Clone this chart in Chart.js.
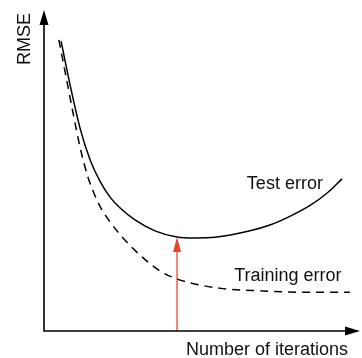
<!DOCTYPE html>
<html>
<head>
<meta charset="utf-8">
<script src="https://cdn.jsdelivr.net/npm/chart.js@4"></script>
<style>
  html, body { margin: 0; padding: 0; background: #fff; }
  #wrap { width: 362px; height: 358px; position: relative; }
</style>
</head>
<body>
<div id="wrap"><canvas id="chart"></canvas></div>
<script>
'use strict';

// iterations (x) and RMSE (y) for the two curves
var testX = [0.54, 0.82, 1.14, 1.46, 1.77, 2.09, 2.41, 2.88, 3.51, 4.21, 4.78, 5.41, 6.52, 7.15, 7.78, 8.42, 8.96, 9.43];
var testY = [9.03, 7.69, 6.32, 5.33, 4.67, 4.17, 3.83, 3.46, 3.12, 2.93, 2.90, 2.92, 3.12, 3.30, 3.57, 3.91, 4.30, 4.74];
var trainX = [0.47, 0.70, 0.92, 1.14, 1.39, 1.77, 2.12, 2.50, 3.10, 3.67, 4.21, 4.62, 5.66, 6.84, 8.10, 9.68];
var trainY = [9.07, 7.91, 6.79, 5.73, 4.80, 3.89, 3.36, 2.90, 2.31, 1.87, 1.62, 1.50, 1.32, 1.25, 1.21, 1.21];

// best stopping point, marked with the red arrow
var stopX = 4.21;
var stopY = [0, 2.93];

var xTitle = 'Number of iterations';
var yTitle = 'RMSE';
var testLabel = 'Test error';
var trainLabel = 'Training error';

var FONT = '18px "Liberation Sans", Arial, sans-serif';

function toPoints(xs, ys) {
  var pts = [];
  for (var i = 0; i < xs.length; i++) {
    pts.push({ x: xs[i], y: ys[i] });
  }
  return pts;
}

function arrowHead(ctx, x, y, dir, len, half, color) {
  // dir: 'up' or 'right', (x, y) is the tip
  ctx.save();
  ctx.fillStyle = color;
  ctx.beginPath();
  ctx.moveTo(x, y);
  if (dir === 'up') {
    ctx.lineTo(x - half, y + len);
    ctx.lineTo(x + half, y + len);
  } else {
    ctx.lineTo(x - len, y - half);
    ctx.lineTo(x - len, y + half);
  }
  ctx.closePath();
  ctx.fill();
  ctx.restore();
}

var decorations = {
  id: 'decorations',
  afterDatasetsDraw: function(chart) {
    var ctx = chart.ctx;
    var area = chart.chartArea;
    var xs = chart.scales.x;
    var ys = chart.scales.y;

    // axes
    ctx.save();
    ctx.strokeStyle = '#000';
    ctx.lineWidth = 1.6;
    ctx.beginPath();
    ctx.moveTo(area.left, area.top + 10);
    ctx.lineTo(area.left, area.bottom);
    ctx.lineTo(area.right - 10, area.bottom);
    ctx.stroke();
    ctx.restore();
    arrowHead(ctx, area.left, area.top, 'up', 15, 4.5, '#000');
    arrowHead(ctx, area.right, area.bottom, 'right', 15, 4.5, '#000');

    // red arrow head at the top of the stop marker
    arrowHead(ctx, xs.getPixelForValue(stopX), ys.getPixelForValue(stopY[1]), 'up', 15, 4, '#e8452f');

    ctx.save();
    ctx.fillStyle = '#111';
    ctx.font = FONT;
    ctx.textBaseline = 'middle';

    ctx.textAlign = 'left';
    ctx.fillText(testLabel, xs.getPixelForValue(6.42), ys.getPixelForValue(4.58));
    ctx.fillText(trainLabel, xs.getPixelForValue(6.02), ys.getPixelForValue(1.71));

    ctx.textAlign = 'right';
    ctx.fillText(xTitle, area.right - 12, area.bottom + 19);

    ctx.translate(area.left - 19, area.top + 3);
    ctx.rotate(-Math.PI / 2);
    ctx.textAlign = 'right';
    ctx.fillText(yTitle, 0, 0);
    ctx.restore();
  }
};

var ctx = document.getElementById('chart').getContext('2d');
new Chart(ctx, {
  type: 'line',
  data: {
    datasets: [
      {
        label: testLabel,
        data: toPoints(testX, testY),
        borderColor: '#000',
        borderWidth: 1.5,
        pointRadius: 0,
        cubicInterpolationMode: 'monotone',
        fill: false
      },
      {
        label: trainLabel,
        data: toPoints(trainX, trainY),
        borderColor: '#000',
        borderWidth: 1.5,
        borderDash: [8, 6],
        pointRadius: 0,
        cubicInterpolationMode: 'monotone',
        fill: false
      },
      {
        label: 'stop',
        data: [{ x: stopX, y: stopY[0] }, { x: stopX, y: stopY[1] - 0.3 }],
        borderColor: '#e8452f',
        borderWidth: 1.3,
        pointRadius: 0,
        fill: false
      }
    ]
  },
  options: {
    responsive: true,
    maintainAspectRatio: false,
    devicePixelRatio: 1,
    animation: false,
    layout: { padding: { left: 44, right: 2, top: 10, bottom: 27 } },
    plugins: {
      legend: { display: false },
      tooltip: { enabled: false }
    },
    scales: {
      x: { type: 'linear', min: 0, max: 10, display: false },
      y: { type: 'linear', min: 0, max: 10, display: false }
    }
  },
  plugins: [decorations]
});
</script>
</body>
</html>
